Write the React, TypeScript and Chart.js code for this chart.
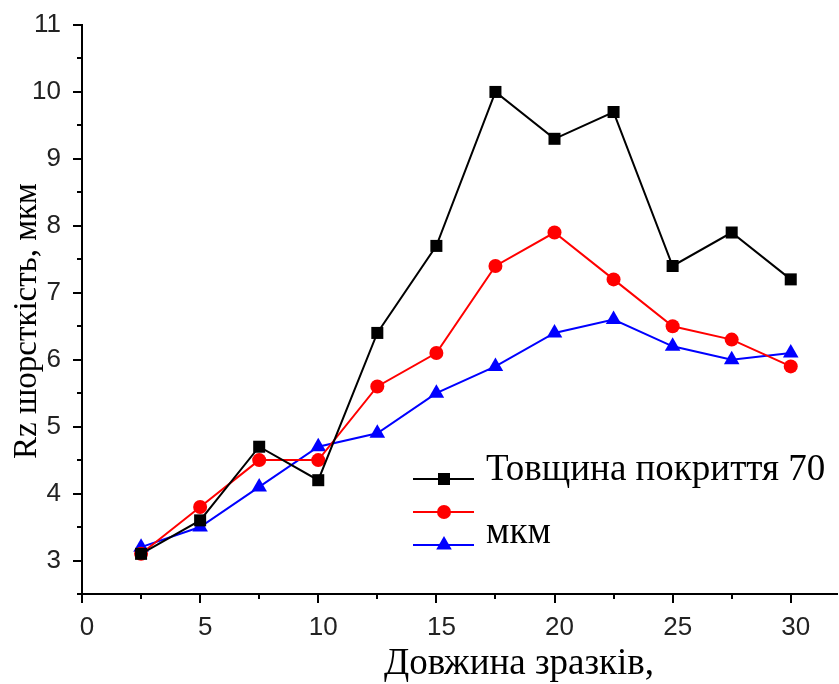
import React, { useEffect, useRef } from "react";
import { Chart, registerables } from "chart.js";

Chart.register(...registerables);

const xValues = [2.5, 5, 7.5, 10, 12.5, 15, 17.5, 20, 22.5, 25, 27.5, 30];
const seriesBlack = [3.1, 3.6, 4.7, 4.2, 6.4, 7.7, 10.0, 9.3, 9.7, 7.4, 7.9, 7.2];
const seriesRed = [3.1, 3.8, 4.5, 4.5, 5.6, 6.1, 7.4, 7.9, 7.2, 6.5, 6.3, 5.9];
const seriesBlue = [3.2, 3.5, 4.1, 4.7, 4.9, 5.5, 5.9, 6.4, 6.6, 6.2, 6.0, 6.1];
const xTickValues = [0, 2.5, 5, 7.5, 10, 12.5, 15, 17.5, 20, 22.5, 25, 27.5, 30];
const xTickLabels = ["0", "", "5", "", "10", "", "15", "", "20", "", "25", "", "30"];
const yTickValues = [2.5, 3, 3.5, 4, 4.5, 5, 5.5, 6, 6.5, 7, 7.5, 8, 8.5, 9, 9.5, 10, 10.5, 11];
const legendLines = ["Товщина покриття 70", "", "мкм"];
const xTitle = "Довжина зразків,";
const yTitle = "Rz шорсткість, мкм";

const PLOT_RIGHT = 838;

const fixRightPlugin = {
  id: "fixRight",
  afterLayout(chart: any) {
    const xs = chart.scales.x;
    const area = chart.chartArea;
    xs.right = PLOT_RIGHT;
    xs.width = PLOT_RIGHT - xs.left;
    area.right = PLOT_RIGHT;
    area.width = PLOT_RIGHT - area.left;
    xs.configure();
  },
};

const tickPlugin = {
  id: "customTicks",
  afterDraw(chart: any) {
    const ctx = chart.ctx;
    const xs = chart.scales.x;
    const ys = chart.scales.y;
    const area = chart.chartArea;
    ctx.save();
    ctx.strokeStyle = "#000";
    ctx.lineWidth = 2;
    // x axis line (full length)
    ctx.beginPath();
    ctx.moveTo(area.left - 1, area.bottom);
    ctx.lineTo(PLOT_RIGHT, area.bottom);
    ctx.stroke();
    xTickValues.forEach((v) => {
      const px = Math.round(xs.getPixelForValue(v));
      const len = v % 5 === 0 ? 9 : 5;
      ctx.beginPath();
      ctx.moveTo(px, area.bottom);
      ctx.lineTo(px, area.bottom + len);
      ctx.stroke();
    });
    yTickValues.forEach((v) => {
      const py = Math.round(ys.getPixelForValue(v));
      const len = Number.isInteger(v) ? 9 : 5;
      ctx.beginPath();
      ctx.moveTo(area.left, py);
      ctx.lineTo(area.left - len, py);
      ctx.stroke();
    });
    // x tick labels
    ctx.fillStyle = "#222";
    ctx.font = '26px "Liberation Sans", Arial';
    ctx.textAlign = "center";
    ctx.textBaseline = "middle";
    xTickValues.forEach((v, i) => {
      if (!xTickLabels[i]) return;
      ctx.fillText(xTickLabels[i], xs.getPixelForValue(v) + 5, area.bottom + 34);
    });
    // axis titles
    ctx.fillStyle = "#000";
    ctx.font = '37px "Liberation Serif"';
    ctx.textAlign = "center";
    ctx.textBaseline = "alphabetic";
    ctx.fillText(xTitle, 519, 674);
    ctx.save();
    ctx.translate(36, 321);
    ctx.rotate(-Math.PI / 2);
    ctx.font = '33px "Liberation Serif"';
    ctx.fillText(yTitle, 0, 0);
    ctx.restore();
    ctx.restore();
  },
};

const legendPlugin = {
  id: "customLegend",
  afterDraw(chart: any) {
    const ctx = chart.ctx;
    const rows = [479, 512, 545];
    const x0 = 413;
    const x1 = 474;
    const xm = 444;
    ctx.save();
    chart.data.datasets.forEach((ds: any, i: number) => {
      const y = rows[i];
      ctx.strokeStyle = ds.borderColor;
      ctx.lineWidth = 2;
      ctx.beginPath();
      ctx.moveTo(x0, y);
      ctx.lineTo(x1, y);
      ctx.stroke();
      ctx.fillStyle = ds.pointBackgroundColor;
      ctx.beginPath();
      if (ds.pointStyle === "rect") {
        ctx.rect(xm - 6, y - 6, 12, 12);
      } else if (ds.pointStyle === "circle") {
        ctx.arc(xm, y, 7, 0, Math.PI * 2);
      } else {
        const r = 9;
        ctx.moveTo(xm, y - r);
        ctx.lineTo(xm + r * 0.866, y + r * 0.5);
        ctx.lineTo(xm - r * 0.866, y + r * 0.5);
        ctx.closePath();
      }
      ctx.fill();
    });
    ctx.fillStyle = "#000";
    ctx.font = '37px "Liberation Serif"';
    ctx.textBaseline = "alphabetic";
    ctx.textAlign = "left";
    ctx.fillText(legendLines[0], 486, 480);
    ctx.fillText(legendLines[2], 486, 543);
    ctx.restore();
  },
};

export default function App() {
  const ref = useRef<HTMLCanvasElement>(null);
  useEffect(() => {
    if (!ref.current) return;
    const mk = (data: number[]) => data.map((y, i) => ({ x: xValues[i], y }));
    const chart = new Chart(ref.current, {
      type: "line",
      data: {
        datasets: [
          {
            label: legendLines[0],
            data: mk(seriesBlack),
            borderColor: "#000000",
            backgroundColor: "#000000",
            pointBackgroundColor: "#000000",
            pointBorderWidth: 0,
            pointStyle: "rect",
            pointRadius: 8.5,
            borderWidth: 2,
          },
          {
            label: legendLines[1],
            data: mk(seriesRed),
            borderColor: "#ff0000",
            backgroundColor: "#ff0000",
            pointBackgroundColor: "#ff0000",
            pointBorderWidth: 0,
            pointStyle: "circle",
            pointRadius: 7,
            borderWidth: 2,
          },
          {
            label: legendLines[2],
            data: mk(seriesBlue),
            borderColor: "#0000ff",
            backgroundColor: "#0000ff",
            pointBackgroundColor: "#0000ff",
            pointBorderWidth: 0,
            pointStyle: "triangle",
            pointRadius: 9,
            borderWidth: 2,
          },
        ],
      },
      options: {
        animation: false,
        responsive: false,
        maintainAspectRatio: false,
        layout: { padding: { top: 25, right: 1, left: 0, bottom: 0 } },
        plugins: { legend: { display: false }, tooltip: { enabled: false } },
        scales: {
          x: {
            type: "linear",
            min: 0,
            max: 32,
            afterBuildTicks: (s: any) => {
              s.ticks = xTickValues.map((v) => ({ value: v }));
            },
            afterFit: (s: any) => {
              s.height = 90;
              s.paddingLeft = 0;
              s.paddingRight = 0;
            },
            grid: { display: false },
            border: { display: false },
            ticks: { display: false },
            title: { display: false },
          },
          y: {
            type: "linear",
            min: 2.5,
            max: 11,
            afterBuildTicks: (s: any) => {
              s.ticks = yTickValues.map((v) => ({ value: v }));
            },
            afterFit: (s: any) => {
              s.width = 82;
              s.paddingTop = 0;
              s.paddingBottom = 0;
            },
            grid: { display: false },
            border: { display: true, color: "#000", width: 2 },
            ticks: {
              autoSkip: false,
              padding: 13,
              color: "#222",
              font: { family: '"Liberation Sans", Arial', size: 26 },
              callback: (v: any) => (Number.isInteger(Number(v)) ? String(v) : ""),
            },
            title: { display: false },
          },
        },
      },
      plugins: [fixRightPlugin, tickPlugin, legendPlugin],
    });
    return () => chart.destroy();
  }, []);
  return (
    <div style={{ position: "fixed", left: 0, top: 0, width: 839, height: 684, background: "#fff" }}>
      <canvas ref={ref} width={839} height={684} style={{ display: "block" }} />
    </div>
  );
}
